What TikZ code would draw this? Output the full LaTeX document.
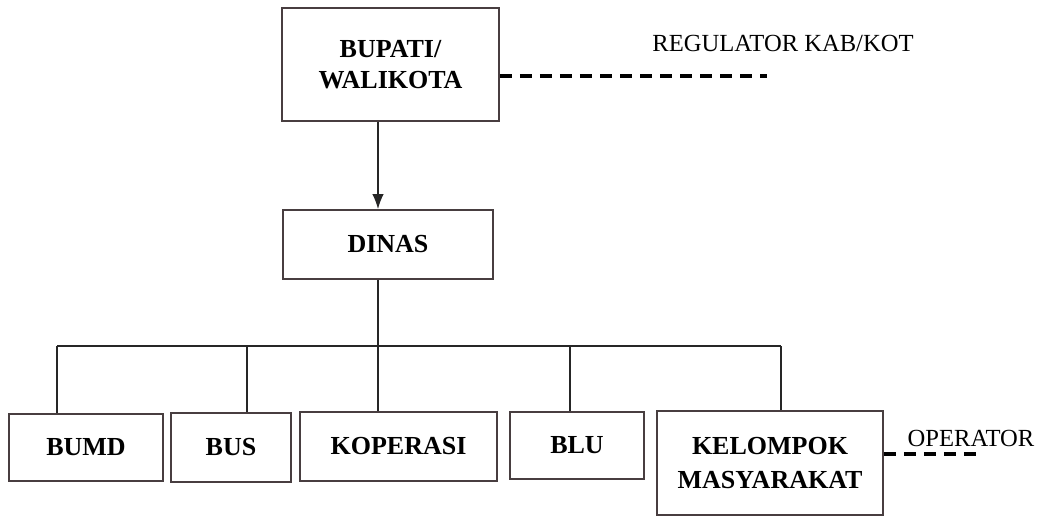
\documentclass[tikz,border=0pt]{standalone}
\usepackage{fontspec}
\setmainfont{Liberation Serif}
\usepackage{tikz}
\usetikzlibrary{positioning}
\usetikzlibrary{arrows.meta}
\definecolor{boxline}{RGB}{72,62,64}

\begin{document}
\begin{tikzpicture}
			[
				x = 0.02cm, y = -0.02cm,
				unit/.style = {rectangle, draw = boxline, line width = 1pt, align = center, inner sep = 0pt, font = \fontsize{14.8}{17.5}\selectfont\bfseries},
				link/.style = {draw = black!85, line width = 0.8pt},
				dashline/.style = {draw = black, line width = 2pt, dash pattern = on 6.8pt off 4.6pt},
				tag/.style = {inner sep = 0pt, font = \fontsize{14}{16}\selectfont},
			]
			\useasboundingbox (0,0) rectangle (1041,517);
			\node (bupati) [unit, minimum width = 4.34cm, minimum height = 2.26cm] at (390.5,64.5) {BUPATI/\\WALIKOTA};
			\node (dinas) [unit, minimum width = 4.2cm, minimum height = 1.38cm] at (388,244.5) {DINAS};
			\node (bumd) [unit, minimum width = 3.08cm, minimum height = 1.34cm] at (86,447.5) {BUMD};
			\node (bus) [unit, minimum width = 2.4cm, minimum height = 1.38cm] at (231,447.5) {BUS};
			\node (koperasi) [unit, minimum width = 3.94cm, minimum height = 1.38cm] at (398.5,446.5) {KOPERASI};
			\node (blu) [unit, minimum width = 2.68cm, minimum height = 1.34cm] at (577,445.5) {BLU};
			\node (kelompok) [unit, minimum width = 4.52cm, minimum height = 2.08cm] at (770,463) {KELOMPOK\\[2pt]MASYARAKAT};
			\node (regulator) [tag] at (783,43) {REGULATOR KAB/KOT};
			\node (operator) [tag] at (971,438) {OPERATOR};
			% trunk and rail
			\coordinate (trunk) at (378,346);
			\draw [link, -{Latex[length = 8.5pt, width = 6.5pt]}] (bupati.south -| trunk) -- (dinas.north -| trunk);
			\draw [link] (dinas.south -| trunk) -- (trunk);
			\draw [link] (57,346) -- (781,346);
			\foreach \n/\x in {bumd/57, bus/247, koperasi/378, blu/570, kelompok/781}
				\draw [link] (\x,346) -- (\n.north -| \x,346);
			% dashed relations
			\coordinate (regend) at (767,76);
			\coordinate (opend) at (978,454);
			\draw [dashline] (bupati.east |- regend) -- (regend);
			\draw [dashline] (kelompok.east |- opend) -- (opend);
		\end{tikzpicture}
\end{document}
